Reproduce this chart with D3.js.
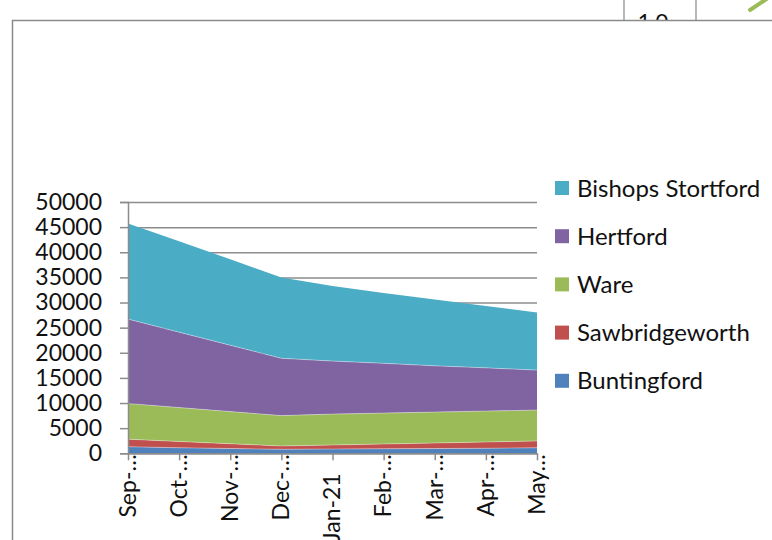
<!DOCTYPE html>
<html>
<head>
<meta charset="utf-8">
<script src="https://cdn.jsdelivr.net/npm/d3@7"></script>
<style>
  body { margin: 0; background: #fff; }
  svg text { font-family: Lato, "Open Sans", sans-serif; fill: #111; }
</style>
</head>
<body>
<script>
// data (stacked, bottom to top)
var categories = ["Sep-\u2026", "Oct-\u2026", "Nov-\u2026", "Dec-\u2026", "Jan-21", "Feb-\u2026", "Mar-\u2026", "Apr-\u2026", "May\u2026"];
var buntingford      = [1300, 1100, 950, 800, 850, 900, 950, 1000, 1100];
var sawbridgeworth   = [1500, 1250, 950, 650, 800, 950, 1100, 1250, 1350];
var ware             = [7100, 6750, 6400, 6050, 6150, 6150, 6150, 6150, 6150];
var hertford         = [16800, 15000, 13200, 11400, 10550, 9900, 9200, 8600, 7950];
var bishopsStortford = [19000, 18100, 17100, 16100, 14950, 14000, 13200, 12300, 11450];
var seriesNames = ["Buntingford", "Sawbridgeworth", "Ware", "Hertford", "Bishops Stortford"];
var seriesColors = ["#4f81bd", "#c0504d", "#9bbb59", "#8064a2", "#4bacc6"];

window.onload = function() {
    var svg = d3.select("body").append("svg").attr("width", 772).attr("height", 540);

    // bits of the neighbouring chart peeking out above the frame
    svg.append("line").attr("x1", 624).attr("x2", 624).attr("y1", 0).attr("y2", 22)
        .attr("stroke", "#888").attr("stroke-width", 1.2);
    svg.append("line").attr("x1", 696).attr("x2", 696).attr("y1", 0).attr("y2", 22)
        .attr("stroke", "#888").attr("stroke-width", 1.2);
    svg.append("text").attr("x", 653).attr("y", 29).attr("text-anchor", "middle")
        .style("font-size", "22px").text("1.0");
    svg.append("line").attr("x1", 750).attr("y1", 10).attr("x2", 768).attr("y2", -2)
        .attr("stroke", "#9bbb59").attr("stroke-width", 4).attr("stroke-linecap", "round");

    // chart frame
    svg.append("rect").attr("x", 12.5).attr("y", 20.5).attr("width", 800).attr("height", 600)
        .attr("fill", "#fff").attr("stroke", "#8a8a8a").attr("stroke-width", 1.5);

    var left = 128, right = 537, top = 202, bottom = 453.3;
    var x = d3.scalePoint().domain(categories).range([left, right]);
    var y = d3.scaleLinear().domain([0, 50000]).range([bottom, top]);

    var rows = categories.map(function(c, i) {
        return {cat: c, "Buntingford": buntingford[i], "Sawbridgeworth": sawbridgeworth[i],
                "Ware": ware[i], "Hertford": hertford[i], "Bishops Stortford": bishopsStortford[i]};
    });
    var stacked = d3.stack().keys(seriesNames)(rows);

    // gridlines (behind areas)
    var grid = svg.append("g").attr("transform", "translate(" + left + ",0)")
        .call(d3.axisLeft(y).ticks(10).tickSize(-(right - left)).tickFormat(""));
    grid.select(".domain").remove();
    grid.selectAll("line").attr("stroke", "#8c8c8c").attr("stroke-width", 1.5);

    var area = d3.area()
        .x(function(d) { return x(d.data.cat); })
        .y0(function(d) { return y(d[0]); })
        .y1(function(d) { return y(d[1]); });

    svg.append("g").selectAll("path").data(stacked).enter().append("path")
        .attr("d", area)
        .attr("fill", function(d, i) { return seriesColors[i]; });

    // faint light seams between the layers
    var seam = d3.line()
        .x(function(d) { return x(d.data.cat); })
        .y(function(d) { return y(d[1]); });
    svg.append("g").selectAll("path").data(stacked.slice(0, 4)).enter().append("path")
        .attr("d", seam).attr("fill", "none")
        .attr("stroke", "#fff").attr("stroke-opacity", 0.45).attr("stroke-width", 0.8);

    // y axis
    var yAxis = svg.append("g").attr("transform", "translate(" + left + ",0)")
        .call(d3.axisLeft(y).ticks(10).tickSize(8).tickPadding(18).tickFormat(d3.format("d")));
    yAxis.select(".domain").attr("stroke", "#8c8c8c").attr("stroke-width", 1.5);
    yAxis.selectAll(".tick line").attr("stroke", "#8c8c8c").attr("stroke-width", 1.5);
    yAxis.selectAll("text").style("font-size", "23px").attr("fill", "#111");

    // x axis
    var xAxis = svg.append("g").attr("transform", "translate(0," + bottom + ")")
        .call(d3.axisBottom(x).tickSize(7).tickSizeOuter(0).tickFormat(""));
    xAxis.select(".domain").attr("stroke", "#8c8c8c").attr("stroke-width", 1.5);
    xAxis.selectAll(".tick line").attr("stroke", "#8c8c8c").attr("stroke-width", 1.5);

    // truncated labels run right up to the axis, the full one sits a bit lower
    svg.append("g").selectAll("text").data(categories).enter().append("text")
        .attr("transform", function(d) {
            var end = d.indexOf("\u2026") >= 0 ? bottom + 1 : bottom + 20;
            return "translate(" + x(d) + "," + end + ") rotate(-90)";
        })
        .attr("text-anchor", "end").attr("dy", "0.34em")
        .style("font-size", "23px")
        .text(function(d) { return d; });

    // legend, top series first
    var legend = svg.append("g").selectAll("g").data(seriesNames.slice().reverse()).enter().append("g")
        .attr("transform", function(d, i) { return "translate(555," + (188 + i * 48.2) + ")"; });
    legend.append("rect").attr("x", 0).attr("y", -7).attr("width", 14).attr("height", 14)
        .attr("fill", function(d) { return seriesColors[seriesNames.indexOf(d)]; });
    legend.append("text").attr("x", 22).attr("dy", "0.36em").style("font-size", "24px")
        .text(function(d) { return d; });
};
</script>
</body>
</html>
